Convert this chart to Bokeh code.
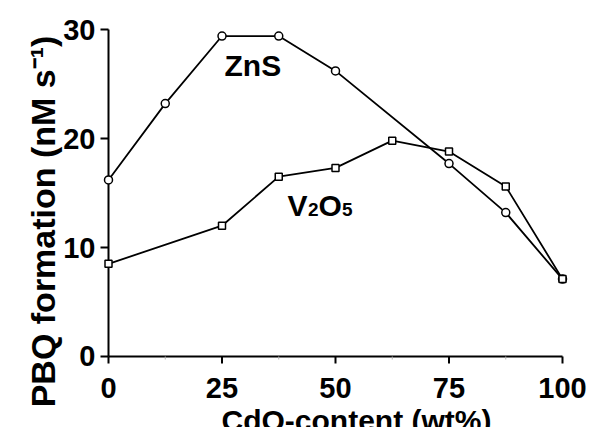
import math
from bokeh.plotting import figure
from bokeh.models import Range1d
from bokeh.core.properties import value
from bokeh.embed import file_html
from bokeh.resources import INLINE

# Data
zns_x = [0, 12.5, 25, 37.5, 50, 75, 87.5, 100]
zns_y = [16.2, 23.2, 29.4, 29.4, 26.2, 17.7, 13.2, 7.1]
v2o5_x = [0, 25, 37.5, 50, 62.5, 75, 87.5, 100]
v2o5_y = [8.5, 12.0, 16.5, 17.3, 19.8, 18.8, 15.6, 7.1]
x_ticks = [0, 25, 50, 75, 100]
x_minor = [12.5, 37.5, 62.5, 87.5]
y_ticks = [0, 10, 20, 30]
x_tick_labels = ["0", "25", "50", "75", "100"]
y_tick_labels = ["0", "10", "20", "30"]
zns_label = "ZnS"
v2o5_main = ["V", "O"]
v2o5_sub = ["2", "5"]
x_title = "CdO-content (wt%)"
y_title = "PBQ formation (nM s\u207b\u00b9)"
zns_label_pos = (25.55, 26.70)
v2o5_label_pos = (39.43, 13.85)
x_title_pos = (54.63, 0)
y_title_pos = (-14.32, 12.39)

FONT = "Liberation Sans"

p = figure(width=597, height=427, output_backend="svg", toolbar_location=None,
           x_axis_location=None, y_axis_location=None,
           x_range=Range1d(-23.789, 107.709), y_range=Range1d(-6.514, 32.661))
p.min_border = 0
p.min_border_left = 0
p.min_border_right = 0
p.min_border_top = 0
p.min_border_bottom = 0
p.outline_line_color = None
p.xgrid.visible = False
p.ygrid.visible = False
p.background_fill_color = "white"

# Axes drawn in data space
x0, x1 = x_ticks[0], x_ticks[-1]
y0, y1 = y_ticks[0], y_ticks[-1]
p.segment(x0=[x0, x0], y0=[y0, y0], x1=[x1, x0], y1=[y0, y1],
          line_color="black", line_width=2)
p.ray(x=x_ticks, y=[y0] * len(x_ticks), length=7, length_units="screen",
      angle=-math.pi / 2, line_color="black", line_width=2)
p.ray(x=x_minor, y=[y0] * len(x_minor), length=3, length_units="screen",
      angle=-math.pi / 2, line_color="#b0b0b0", line_width=1)
p.ray(x=[x0] * len(y_ticks), y=y_ticks, length=8, length_units="screen",
      angle=math.pi, line_color="black", line_width=2)

tick = dict(text_font=value(FONT), text_font_style="bold", text_color="black",
            text_font_size="29px")
p.text(x=x_ticks, y=[y0] * len(x_ticks), text=x_tick_labels, y_offset=32,
       text_align="center", text_baseline="alphabetic", **tick)
p.text(x=[x0] * len(y_ticks), y=y_ticks, text=y_tick_labels, x_offset=-13,
       text_align="right", text_baseline="middle", **tick)

# Axis titles
p.text(x=[x_title_pos[0]], y=[x_title_pos[1]], text=[x_title], y_offset=64,
       text_align="center", text_baseline="alphabetic", text_font=value(FONT),
       text_font_style="bold", text_font_size="30px", text_color="black")
p.text(x=[y_title_pos[0]], y=[y_title_pos[1]], text=[y_title], angle=math.pi / 2,
       text_align="center", text_baseline="alphabetic", text_font=value(FONT),
       text_font_style="bold", text_font_size="34px", text_color="black")

# Lines and markers
p.line(zns_x, zns_y, line_color="black", line_width=1.8)
p.scatter(zns_x, zns_y, marker="circle", size=8, fill_color="white",
          line_color="black", line_width=1.5)
p.line(v2o5_x, v2o5_y, line_color="black", line_width=1.8)
p.scatter(v2o5_x, v2o5_y, marker="square", size=7, fill_color="white",
          line_color="black", line_width=1.5)

# Series labels
lbl = dict(text_font=value(FONT), text_font_style="bold", text_color="black",
           text_align="left", text_baseline="alphabetic")
p.text(x=[zns_label_pos[0]], y=[zns_label_pos[1]], text=[zns_label],
       text_font_size="30px", **lbl)
p.text(x=[v2o5_label_pos[0]] * 2, y=[v2o5_label_pos[1]] * 2, text=v2o5_main,
       x_offset=[0, 31], text_font_size="30px", **lbl)
p.text(x=[v2o5_label_pos[0]] * 2, y=[v2o5_label_pos[1]] * 2, text=v2o5_sub,
       x_offset=[20.5, 54.5], y_offset=[4, 4], text_font_size="19px", **lbl)

open("out.html", "w").write(file_html(p, INLINE))
